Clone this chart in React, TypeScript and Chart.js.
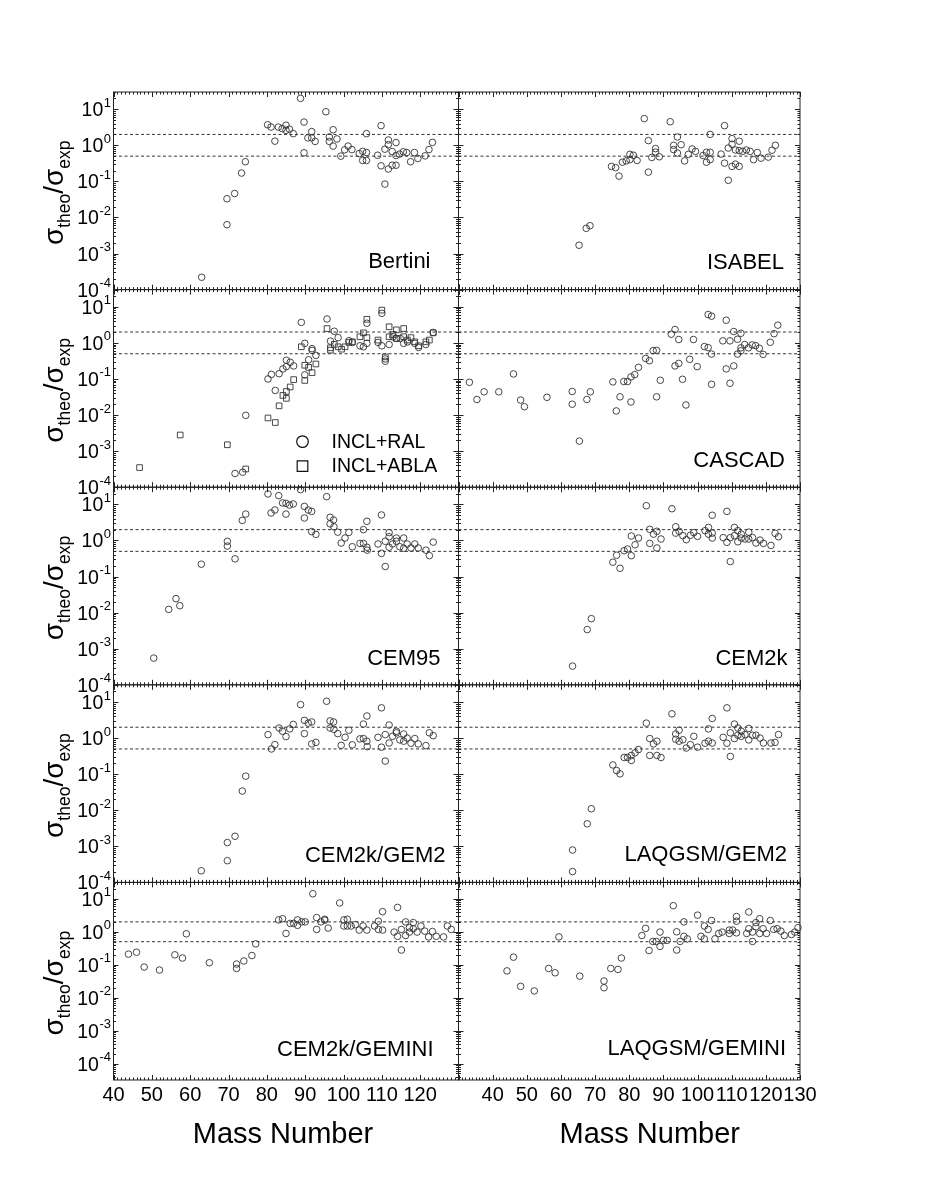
import React, { useEffect, useRef } from "react";
import { Chart, registerables } from "chart.js";
Chart.register(...registerables);

const FONT = '"Liberation Sans", Arial, Helvetica, sans-serif';

// ---------- data: [mass number, sigma_theo/sigma_exp] ----------
const bertini = [[63,2.2e-4],[69.6,0.033],[69.6,0.0063],[71.6,0.046],[73.4,0.17],[74.4,0.35],[80.2,3.7],[81.1,3.2],[82.1,1.3],[83,3.2],[84,2.9],[85,3.6],[85,2.6],[85.9,2.8],[86.9,2.1],[88.8,20],[89.7,4.4],[89.7,0.62],[90.7,1.6],[91.7,2.4],[91.7,1.6],[92.6,1.28],[95.4,8.5],[96.3,1.7],[96.3,1.28],[97.3,2.7],[97.3,0.95],[98.3,1.5],[99.3,0.5],[100.3,0.75],[101.2,0.95],[102.2,0.76],[104.1,0.59],[105,0.68],[105,0.38],[106,2.1],[106,0.63],[106,0.38],[108.9,0.53],[109.8,3.5],[109.8,0.27],[110.8,0.78],[110.8,0.084],[111.7,1.4],[111.7,1.04],[111.7,0.22],[112.7,0.67],[112.7,0.28],[113.7,1.19],[113.7,0.52],[113.7,0.28],[114.6,0.57],[115.6,0.66],[116.5,0.63],[117.5,0.35],[118.5,0.63],[119.4,0.43],[121.3,0.51],[122.3,0.76],[123.2,1.2]];
const isabel = [[65.3,0.0017],[67.4,0.005],[68.5,0.0059],[74.8,0.26],[76,0.24],[77,0.14],[78,0.34],[79.1,0.37],[80.2,0.4],[80.2,0.56],[81.2,0.53],[82.3,0.38],[84.4,5.5],[85.6,1.35],[85.6,0.18],[86.6,0.46],[87.7,0.81],[87.7,0.65],[88.8,0.48],[92,4.5],[93,1.0],[93,0.76],[94.1,1.7],[94.1,0.61],[95.2,1.04],[96.2,0.37],[97.3,0.56],[98.4,0.79],[99.4,0.68],[101.6,0.52],[102.6,0.64],[102.6,0.34],[103.7,2.0],[103.7,0.64],[103.7,0.4],[106.9,0.57],[107.9,3.5],[107.9,0.32],[109,0.84],[109,0.107],[110.1,1.53],[110.1,1.07],[110.1,0.26],[111.1,0.74],[111.1,0.3],[112.2,1.3],[112.2,0.71],[112.2,0.26],[113.2,0.68],[114.3,0.74],[115.4,0.68],[116.4,0.4],[117.5,0.63],[118.6,0.44],[120.7,0.47],[121.8,0.73],[122.8,1.0]];
const inclRal = [[71.7,2.4e-4],[73.7,2.6e-4],[74.5,0.0098],[80.3,0.10],[81.2,0.134],[82.2,0.048],[83.2,0.14],[84.2,0.19],[85.1,0.22],[85.1,0.33],[86.1,0.29],[87,0.23],[89,3.7],[89.9,0.97],[89.9,0.13],[90.9,0.34],[91.8,0.69],[91.8,0.62],[92.8,0.45],[95.7,4.6],[96.6,1.12],[97.6,2.1],[98.6,1.4],[101.4,1.15],[102.3,1.03],[104.3,0.83],[105.2,0.78],[106.1,3.5],[106.1,0.97],[109,1.03],[110,6.6],[110,0.83],[110.9,0.31],[110.9,0.36],[111.9,0.9],[112.9,1.48],[113.8,1.33],[114.8,1.33],[115.7,0.97],[116.7,1.07],[118.6,0.97],[119.6,0.75],[121.5,0.9],[123.4,1.95]];
const inclAbla = [[46.8,3.5e-4],[57.4,2.8e-3],[69.7,1.5e-3],[74.5,3.2e-4],[80.3,0.0083],[82.2,0.0062],[83.2,0.018],[84.2,0.035],[85.1,0.029],[85.1,0.045],[86.1,0.06],[87,0.096],[89,0.78],[89.9,0.24],[89.9,0.091],[90.9,0.21],[91.8,0.15],[92.8,0.26],[95.7,2.5],[96.6,0.73],[96.6,0.63],[97.6,0.91],[98.6,0.78],[99.5,0.67],[100.4,0.78],[101.4,1.03],[102.3,1.07],[104.3,1.48],[105.2,1.9],[106.1,4.5],[106.1,1.4],[109,1.2],[110,8.1],[110.9,0.41],[111.9,2.8],[111.9,1.48],[112.9,1.7],[113.8,2.3],[113.8,1.33],[115.7,2.5],[115.7,1.48],[116.7,1.2],[117.6,1.4],[118.6,1.07],[119.6,0.83],[121.5,1.07],[122.4,1.2],[123.4,1.9]];
const cascad = [[33.2,0.081],[35.4,0.027],[37.5,0.044],[41.8,0.044],[46.1,0.138],[48.2,0.026],[49.3,0.017],[55.9,0.031],[63.3,0.045],[63.3,0.02],[65.4,0.0019],[67.6,0.027],[68.6,0.044],[75.2,0.083],[76.2,0.013],[77.3,0.032],[78.4,0.085],[79.5,0.085],[80.5,0.023],[80.5,0.114],[81.6,0.132],[82.7,0.21],[84.8,0.37],[85.9,0.32],[87,0.61],[88,0.62],[88,0.032],[89.1,0.092],[92.3,1.74],[93.4,2.35],[93.4,0.23],[94.5,1.24],[94.5,0.27],[95.6,0.098],[96.6,0.019],[97.7,0.35],[98.8,1.24],[99.9,0.22],[102,0.79],[103.1,6.1],[103.1,0.74],[104.1,5.5],[104.1,0.49],[104.1,0.071],[107.4,1.14],[108.4,4.25],[108.4,0.19],[109.5,1.14],[109.5,0.076],[110.6,2.06],[110.6,0.23],[111.7,1.26],[111.7,0.49],[112.7,1.85],[112.7,0.6],[112.7,0.73],[113.8,0.9],[114.9,0.73],[116,0.88],[117,0.84],[118.1,0.71],[119.2,0.48],[121.3,1.04],[122.4,1.8],[123.5,3.1]];
const cem95 = [[50.5,5.5e-4],[54.4,0.0123],[56.3,0.0245],[57.3,0.0156],[62.9,0.22],[69.7,0.95],[69.7,0.7],[71.7,0.31],[73.6,3.6],[74.5,5.4],[80.3,19.5],[81.1,5.8],[82.1,7.0],[83.1,17.5],[84.1,11],[85,5.4],[85,10.7],[85.9,9.6],[86.9,10.3],[88.8,25.7],[89.8,8.8],[89.8,4.2],[90.8,7],[91.7,6.4],[91.7,1.76],[92.8,1.48],[95.6,16.4],[96.5,4.4],[97.4,3.7],[96.5,2.9],[97.5,2.4],[98.5,1.7],[99.4,0.85],[100.4,1.17],[101.4,1.68],[102.3,0.67],[104.3,0.83],[105.2,2.0],[105.2,0.83],[106.1,3.4],[106.1,0.65],[106.2,0.54],[109,0.8],[109.9,5.1],[109.9,0.44],[110.9,0.19],[110.9,0.95],[111.9,1.65],[111.9,1.27],[111.9,0.65],[112.8,0.8],[113.8,1.17],[113.8,0.95],[114.7,0.67],[115.7,1.17],[115.7,0.61],[116.6,0.8],[117.6,0.62],[118.6,0.8],[119.5,0.62],[121.5,0.54],[122.4,0.38],[123.4,0.9]];
const cem2k = [[63.4,3.3e-4],[67.7,0.0034],[68.9,0.0068],[75.2,0.25],[76.3,0.39],[77.3,0.17],[78.5,0.52],[79.5,0.58],[80.6,0.38],[80.6,1.33],[81.7,0.76],[82.7,1.17],[85,9.2],[86,2.04],[86,0.83],[87.1,1.5],[88.1,1.8],[88.1,0.62],[89.3,1.1],[92.5,7.6],[93.6,2.4],[93.6,1.6],[94.6,1.8],[95.7,1.36],[96.7,1.05],[97.9,1.4],[98.9,1.65],[100,1.3],[102.2,1.87],[103.2,2.3],[103.2,1.5],[104.3,5.0],[104.3,1.6],[104.3,1.17],[107.5,1.2],[108.6,6.4],[108.6,0.89],[109.6,0.26],[109.6,1.2],[110.8,2.3],[110.8,1.36],[111.8,0.92],[111.8,1.87],[112.8,1.5],[112.8,1.17],[113.9,1.1],[115,1.7],[115,1.1],[116.1,1.2],[117.1,0.85],[118.3,1.03],[119.3,0.83],[121.5,0.73],[122.7,1.58],[123.7,1.27]];
const cem2kGem2 = [[62.9,2.1e-4],[69.7,4.0e-4],[69.7,1.27e-3],[71.7,1.9e-3],[73.6,0.034],[74.5,0.088],[80.3,1.25],[81.2,0.5],[82.1,0.66],[83.2,1.9],[84.1,1.55],[85,1.1],[86,1.8],[86.9,2.4],[88.8,8.5],[89.8,3.1],[89.8,1.33],[90.8,2.6],[91.7,2.8],[91.7,0.69],[92.8,0.76],[95.6,10.5],[96.5,3.0],[97.4,2.8],[96.5,1.9],[97.5,1.75],[98.5,1.33],[99.4,0.63],[100.4,1.05],[101.4,1.65],[102.3,0.65],[104.3,0.95],[105.2,2.45],[105.2,0.97],[106.1,4.1],[106.1,0.82],[106.2,0.58],[109,1.05],[109.9,6.9],[109.9,0.56],[110.9,0.23],[110.9,1.25],[111.9,2.3],[111.9,0.73],[112.8,1.12],[113.8,1.55],[113.8,1.4],[114.7,0.89],[115.7,1.3],[115.7,0.82],[116.6,1.0],[117.6,0.72],[118.6,0.97],[119.5,0.69],[121.5,0.62],[122.4,1.4],[123.4,1.17]];
const laqgsmGem2 = [[63.4,2.0e-4],[63.4,7.9e-4],[67.7,0.0042],[68.9,0.011],[75.2,0.18],[76.3,0.126],[77.3,0.102],[78.5,0.29],[79.5,0.29],[80.6,0.24],[80.6,0.33],[81.7,0.39],[82.7,0.48],[85,2.6],[86,0.97],[86,0.33],[87.1,0.69],[88.1,0.82],[88.1,0.33],[89.3,0.29],[92.5,4.7],[93.6,1.3],[93.6,0.93],[94.6,1.65],[94.6,0.82],[95.7,0.9],[96.7,0.53],[97.9,0.66],[98.9,1.12],[100,0.56],[102.2,0.72],[103.2,1.8],[103.2,0.82],[104.3,3.5],[104.3,0.73],[107.5,1.05],[108.6,6.9],[108.6,0.72],[109.6,0.31],[109.6,1.4],[110.8,2.45],[110.8,0.97],[111.8,1.2],[111.8,1.9],[112.8,1.55],[112.8,1.12],[113.9,1.25],[115,1.85],[115,0.89],[116.1,1.2],[117.1,1.2],[118.3,1.0],[119.3,0.73],[121.5,0.73],[122.7,0.76],[123.7,1.25]];
const cem2kGemini = [[43.9,0.21],[46,0.24],[48,0.085],[52,0.069],[56,0.2],[58,0.16],[59,0.87],[65,0.115],[72.1,0.077],[72.1,0.105],[74,0.13],[76.1,0.19],[77.1,0.43],[83.1,2.3],[84.1,2.5],[85,0.89],[86.1,1.8],[87,1.8],[88,1.57],[88,2.3],[89.1,2.0],[90,2.0],[92,14.3],[93,1.18],[93,2.7],[94.1,2.0],[95.1,2.4],[95.1,2.25],[96,1.3],[99,7.5],[100.1,2.3],[100.1,1.5],[101,2.4],[101,1.5],[102,1.5],[103.1,1.65],[104.1,1.13],[105.1,1.5],[106.1,1.13],[108.1,1.5],[109.1,2.1],[109.1,1.18],[110.2,4.1],[110.2,1.13],[114.1,5.5],[113.2,0.98],[114.1,0.73],[115.1,0.28],[115.1,1.18],[116.2,2.0],[116.2,0.77],[117.2,1.33],[117.2,0.98],[118.2,1.9],[118.2,1.24],[119.2,0.98],[120.2,1.5],[121.2,1.05],[122.2,0.7],[123.2,1.02],[124.2,0.73],[126.1,0.7],[127.1,1.5],[128.1,1.18]];
const laqgsmGemini = [[44.2,0.065],[46.1,0.17],[48.2,0.022],[52.2,0.016],[56.4,0.077],[58.3,0.057],[59.4,0.7],[65.5,0.045],[72.6,0.032],[72.6,0.02],[74.6,0.077],[76.7,0.072],[77.7,0.16],[83.7,0.77],[84.8,1.27],[85.8,0.27],[86.9,0.51],[87.9,0.51],[89,0.36],[89,0.98],[90,0.55],[91.1,0.55],[92.9,6.2],[93.9,0.28],[93.9,1.0],[94.9,0.51],[96,2.0],[96,0.73],[97,0.61],[100,3.2],[101,0.73],[102,1.5],[102,0.61],[103.1,1.18],[104.1,2.2],[105.1,0.61],[106.2,0.89],[107.2,0.98],[109.3,1.13],[109.3,0.89],[110.3,1.13],[111.4,2.1],[111.4,2.9],[111.4,0.93],[114.4,0.89],[115,4.0],[115,1.24],[116.1,0.51],[116.1,0.98],[117.1,1.9],[117.1,1.43],[118.2,2.5],[118.2,0.89],[119.2,1.24],[120.2,0.89],[121.3,2.2],[122.3,1.18],[123.3,1.24],[124.4,1.05],[125.4,0.77],[127.5,0.83],[128.5,0.98],[129.4,1.33]];

// ---------- axes / reference lines / tick labels ----------
const ratioLines = [2, 0.5];
const xRangeLeft = [40, 130];
const xRangeRight = [30, 130];
const yRangeUpper = [1e-4, 30];
const yRangeBottom = [Math.pow(10, -4.5), Math.pow(10, 1.5)];
const xLabelsLeft = [40, 50, 60, 70, 80, 90, 100, 110, 120];
const xLabelsRight = [40, 50, 60, 70, 80, 90, 100, 110, 120, 130];
const yExponents = [1, 0, -1, -2, -3, -4];
const legendLabels = ["INCL+RAL", "INCL+ABLA"];
const xTitle = "Mass Number";

// ---------- layout ----------
const COL_X = [113.5, 458.5];
const COL_W = [345, 341.5];
const ROW_TOP = 92;
const ROW_H = 197.6;

type Series = { label: string; data: number[][]; shape: "circle" | "rect" };
type PanelCfg = {
  name: string;
  col: number;
  row: number;
  series: Series[];
  nameDx: number;
  nameDy: number;
  legend?: boolean;
};

const panels: PanelCfg[] = [
  { name: "Bertini", col: 0, row: 0, series: [{ label: "Bertini", data: bertini, shape: "circle" }], nameDx: -28, nameDy: -22 },
  { name: "ISABEL", col: 1, row: 0, series: [{ label: "ISABEL", data: isabel, shape: "circle" }], nameDx: -16, nameDy: -21 },
  { name: "", col: 0, row: 1, series: [{ label: legendLabels[0], data: inclRal, shape: "circle" }, { label: legendLabels[1], data: inclAbla, shape: "rect" }], nameDx: 0, nameDy: 0, legend: true },
  { name: "CASCAD", col: 1, row: 1, series: [{ label: "CASCAD", data: cascad, shape: "circle" }], nameDx: -15, nameDy: -20.5 },
  { name: "CEM95", col: 0, row: 2, series: [{ label: "CEM95", data: cem95, shape: "circle" }], nameDx: -18, nameDy: -19.5 },
  { name: "CEM2k", col: 1, row: 2, series: [{ label: "CEM2k", data: cem2k, shape: "circle" }], nameDx: -12.5, nameDy: -19.5 },
  { name: "CEM2k/GEM2", col: 0, row: 3, series: [{ label: "CEM2k/GEM2", data: cem2kGem2, shape: "circle" }], nameDx: -13, nameDy: -20 },
  { name: "LAQGSM/GEM2", col: 1, row: 3, series: [{ label: "LAQGSM/GEM2", data: laqgsmGem2, shape: "circle" }], nameDx: -13, nameDy: -21 },
  { name: "CEM2k/GEMINI", col: 0, row: 4, series: [{ label: "CEM2k/GEMINI", data: cem2kGemini, shape: "circle" }], nameDx: -25, nameDy: -24 },
  { name: "LAQGSM/GEMINI", col: 1, row: 4, series: [{ label: "LAQGSM/GEMINI", data: laqgsmGemini, shape: "circle" }], nameDx: -14, nameDy: -25 },
];

const POINT_COLOR = "#333";
const FRAME_COLOR = "#222";

function drawTickLabel(ctx: CanvasRenderingContext2D, rightX: number, y: number, exp: number) {
  ctx.font = `19.5px ${FONT}`;
  const w10 = ctx.measureText("10").width;
  ctx.font = `13px ${FONT}`;
  const expText = String(exp);
  const we = ctx.measureText(expText).width;
  const x0 = rightX - we - w10;
  ctx.font = `19.5px ${FONT}`;
  ctx.textAlign = "left";
  ctx.textBaseline = "alphabetic";
  ctx.fillText("10", x0, y + 7);
  ctx.font = `13px ${FONT}`;
  ctx.fillText(expText, x0 + w10 + 0.5, y - 2.5);
}

function drawYTitle(ctx: CanvasRenderingContext2D, x: number, cy: number) {
  const parts: [string, number, number][] = [
    ["σ", 28, 0],
    ["theo", 17.5, 7],
    ["/σ", 28, 0],
    ["exp", 17.5, 7],
  ];
  ctx.save();
  ctx.translate(x, cy);
  ctx.rotate(-Math.PI / 2);
  let total = 0;
  const widths = parts.map(([t, s]) => {
    ctx.font = `${s}px ${FONT}`;
    const w = ctx.measureText(t).width;
    total += w;
    return w;
  });
  let cx = -total / 2;
  ctx.textAlign = "left";
  ctx.textBaseline = "alphabetic";
  parts.forEach(([t, s, dy], i) => {
    ctx.font = `${s}px ${FONT}`;
    ctx.fillText(t, cx, dy);
    cx += widths[i];
  });
  ctx.restore();
}

function makeDecorPlugin(cfg: PanelCfg, xr: number[], yr: number[]) {
  return {
    id: "decor" + cfg.col + cfg.row,
    afterDraw(chart: any) {
      const ctx: CanvasRenderingContext2D = chart.ctx;
      const { left, right, top, bottom } = chart.chartArea;
      const xs = chart.scales.x;
      const ys = chart.scales.y;
      ctx.save();
      ctx.strokeStyle = FRAME_COLOR;
      ctx.lineWidth = 1;
      ctx.beginPath();
      for (let v = xr[0]; v <= xr[1]; v += 1) {
        const px = Math.round(xs.getPixelForValue(v)) + 0.5;
        const len = v % 10 === 0 ? 5 : 2.5;
        ctx.moveTo(px, bottom);
        ctx.lineTo(px, bottom - len);
        ctx.moveTo(px, top);
        ctx.lineTo(px, top + len);
      }
      for (let d = -6; d <= 2; d++) {
        for (let m = 1; m <= 9; m++) {
          const v = m * Math.pow(10, d);
          if (v < yr[0] * 0.999 || v > yr[1] * 1.001) continue;
          const py = Math.round(ys.getPixelForValue(v)) + 0.5;
          const len = m === 1 ? 5 : 2.5;
          ctx.moveTo(left, py);
          ctx.lineTo(left + len, py);
          ctx.moveTo(right, py);
          ctx.lineTo(right - len, py);
        }
      }
      ctx.stroke();
      ctx.strokeRect(left, top, right - left, bottom - top);

      ctx.fillStyle = "#000";
      if (cfg.name) {
        ctx.font = `22px ${FONT}`;
        ctx.textAlign = "right";
        ctx.textBaseline = "alphabetic";
        ctx.fillText(cfg.name, right + cfg.nameDx, bottom + cfg.nameDy);
      }
      if (cfg.legend) {
        cfg.series.forEach((s, i) => {
          const sx = left + 189;
          const sy = top + 152 + i * 24.5;
          ctx.strokeStyle = "#111";
          ctx.lineWidth = 1.2;
          ctx.beginPath();
          if (s.shape === "circle") {
            ctx.arc(sx, sy, 5.8, 0, Math.PI * 2);
          } else {
            ctx.rect(sx - 5.3, sy - 5.3, 10.6, 10.6);
          }
          ctx.stroke();
          ctx.font = `19.5px ${FONT}`;
          ctx.textAlign = "left";
          ctx.textBaseline = "middle";
          ctx.fillText(s.label, left + 218, sy + 1);
        });
      }
      if (cfg.col === 0) {
        yExponents.forEach((e) => {
          const v = Math.pow(10, e);
          if (v < yr[0] * 0.999 || v > yr[1] * 1.001) return;
          drawTickLabel(ctx, left - 3, ys.getPixelForValue(v), e);
        });
        drawYTitle(ctx, 63, (top + bottom) / 2 + 2);
      }
      if (cfg.row === 4) {
        const labels = cfg.col === 0 ? xLabelsLeft : xLabelsRight;
        ctx.font = `20px ${FONT}`;
        ctx.textAlign = "center";
        ctx.textBaseline = "alphabetic";
        labels.forEach((l) => {
          ctx.fillText(String(l), xs.getPixelForValue(l), bottom + 21);
        });
        ctx.font = `29px ${FONT}`;
        const cx = (left + right) / 2 + (cfg.col === 0 ? -3 : 20.5);
        ctx.fillText(xTitle, cx, bottom + 62.5);
      }
      ctx.restore();
    },
  };
}

function Panel({ cfg }: { cfg: PanelCfg }) {
  const ref = useRef<HTMLCanvasElement | null>(null);
  const panelLeft = COL_X[cfg.col];
  const panelW = COL_W[cfg.col];
  const panelTop = ROW_TOP + cfg.row * ROW_H;
  const wantL = cfg.col === 0 ? panelLeft : 10;
  const canvasLeft = Math.floor(panelLeft - wantL);
  const padL = panelLeft - canvasLeft;
  const wantR = cfg.col === 1 ? 40 : 10;
  const width = Math.ceil(padL + panelW + wantR);
  const padR = width - padL - panelW;
  const canvasTop = Math.floor(panelTop - 10);
  const padT = panelTop - canvasTop;
  const wantB = cfg.row === 4 ? 80 : 10;
  const height = Math.ceil(padT + ROW_H + wantB);
  const padB = height - padT - ROW_H;

  useEffect(() => {
    if (!ref.current) return;
    const xr = cfg.col === 0 ? xRangeLeft : xRangeRight;
    const yr = cfg.row === 4 ? yRangeBottom : yRangeUpper;
    const datasets: any[] = [];
    ratioLines.forEach((r) => {
      datasets.push({
        type: "line",
        data: [{ x: xr[0], y: r }, { x: xr[1], y: r }],
        borderColor: "#333",
        borderWidth: 1,
        borderDash: [3, 2.5],
        pointRadius: 0,
        fill: false,
        tension: 0,
      });
    });
    cfg.series.forEach((s) => {
      datasets.push({
        type: "scatter",
        label: s.label,
        data: s.data.map(([x, y]) => ({ x, y })),
        pointStyle: s.shape,
        pointRadius: s.shape === "rect" ? 4.0 : 3.3,
        pointBorderWidth: 0.9,
        pointBorderColor: POINT_COLOR,
        pointBackgroundColor: "rgba(0,0,0,0)",
        showLine: false,
        clip: false,
      });
    });
    const chart = new Chart(ref.current, {
      type: "scatter",
      data: { datasets },
      options: {
        animation: false,
        responsive: false,
        devicePixelRatio: 1,
        events: [],
        layout: { padding: { left: padL, right: padR, top: padT, bottom: padB } },
        plugins: { legend: { display: false }, tooltip: { enabled: false } },
        scales: {
          x: { type: "linear", min: xr[0], max: xr[1], display: false },
          y: { type: "logarithmic", min: yr[0], max: yr[1], display: false },
        },
      } as any,
      plugins: [makeDecorPlugin(cfg, xr, yr) as any],
    });
    return () => chart.destroy();
  }, []);

  return (
    <canvas
      ref={ref}
      width={width}
      height={height}
      style={{ position: "absolute", left: canvasLeft, top: canvasTop, width, height }}
    />
  );
}

export default function App() {
  return (
    <div style={{ position: "absolute", left: 0, top: 0, width: 926, height: 1199, background: "#fff" }}>
      {panels.map((p) => (
        <Panel key={p.col + "-" + p.row} cfg={p} />
      ))}
    </div>
  );
}
